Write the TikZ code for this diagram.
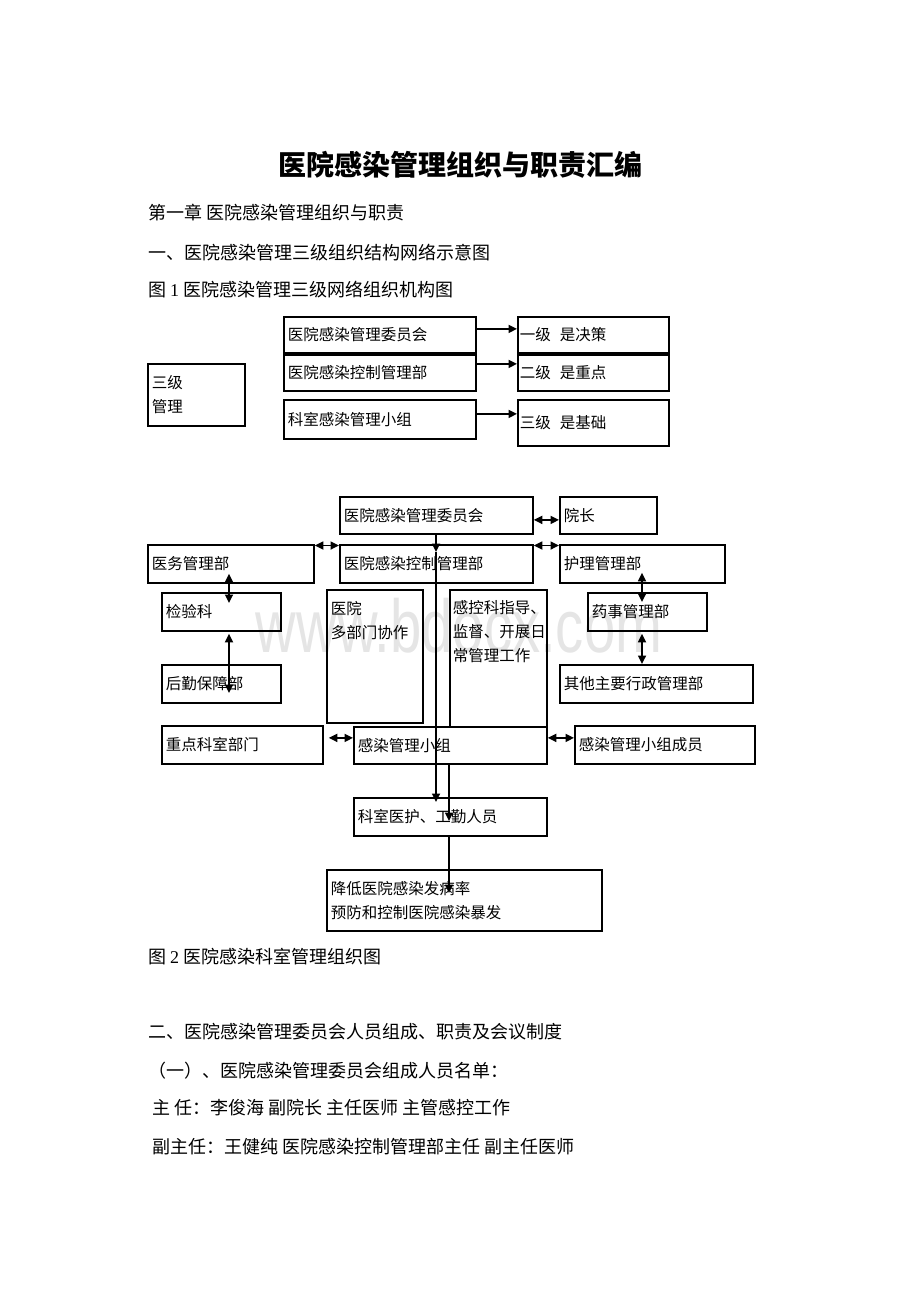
\documentclass[tikz,border=0pt]{standalone}
\usepackage{fontspec}
\setmainfont{Noto Sans CJK SC}
\newfontfamily\lat{Liberation Serif}
\newfontfamily\wmfont{Liberation Sans}
\usetikzlibrary{arrows.meta}

\newcommand{\bodyfont}{\fontsize{18}{22}\selectfont}
\newcommand{\boxfont}{\fontsize{15.5}{24}\selectfont}
\newcommand{\titlefont}{\bfseries\fontsize{28}{32}\selectfont}

\tikzset{
  box/.style={draw, line width=1.8pt, anchor=north west, inner xsep=4pt, inner ysep=0pt, align=left, font=\boxfont},
  line/.style={anchor=west, inner sep=0pt, font=\bodyfont},
  dbl/.style={{Triangle[length=8.5pt,width=8pt]}-{Triangle[length=8.5pt,width=8pt]}, line width=1.7pt},
  one/.style={-{Triangle[length=8.5pt,width=8pt]}, line width=1.7pt},
}

\begin{document}
\begin{tikzpicture}[x=1pt,y=-1pt]
\useasboundingbox (0,0) rectangle (920,1302);

% watermark
\node[text=black!10, font=\wmfont\fontsize{75}{75}\selectfont, xscale=0.75, anchor=base] (wm) at (459,652) {www.bdocx.com};

% heading and text lines
\node[font=\titlefont] (title) at (460,165) {医院感染管理组织与职责汇编};
\node[line] (h1) at (148,213) {第一章 医院感染管理组织与职责};
\node[line] (h2) at (148,253) {一、医院感染管理三级组织结构网络示意图};
\node[line] (cap1) at (148,290) {图 {\lat 1} 医院感染管理三级网络组织机构图};

% figure 1
\node[box, text width=89pt, minimum height=62pt] (sj) at (147,363) {三级\\管理};
\node[box, text width=184pt, minimum height=36pt] (s1) at (283,316) {医院感染管理委员会};
\node[box, text width=184pt, minimum height=36pt] (s2) at (283,354) {医院感染控制管理部};
\node[box, text width=184pt, minimum height=39pt] (s3) at (283,399) {科室感染管理小组};
\node[box, inner xsep=2pt, text width=147pt, minimum height=36pt] (l1) at (517,316) {一级\hspace{9pt}是决策};
\node[box, inner xsep=2pt, text width=147pt, minimum height=36pt] (l2) at (517,354) {二级\hspace{9pt}是重点};
\node[box, inner xsep=2pt, text width=147pt, minimum height=46pt] (l3) at (517,399) {三级\hspace{9pt}是基础};

\draw[one] ([yshift=6pt]s1.east) -- ([yshift=6pt]s1.east -| l1.west);
\draw[one] ([yshift=9pt]s2.east) -- ([yshift=9pt]s2.east -| l2.west);
\draw[one] ([yshift=5.5pt]s3.east) -- ([yshift=5.5pt]s3.east -| l3.west);

% figure 2
\coordinate (c1) at (229,0);
\coordinate (c2) at (642,0);
\coordinate (v1) at (436,0);
\coordinate (v2) at (449,0);

\node[box, text width=185pt, minimum height=37pt] (wyh) at (339,496) {医院感染管理委员会};
\node[box, text width=89pt, minimum height=37pt] (yz) at (559,496) {院长};
\node[box, text width=158pt, minimum height=38pt] (ywb) at (147,544) {医务管理部};
\node[box, text width=185pt, minimum height=38pt] (kgb) at (339,544) {医院感染控制管理部};
\node[box, text width=157pt, minimum height=38pt] (hlb) at (559,544) {护理管理部};
\node[box, text width=111pt, minimum height=38pt] (jyk) at (161,592) {检验科};
\node[box, text width=88pt, minimum height=133pt] (dbm) at (326,589)
  {\parbox[c][111pt][t]{88pt}{\raggedright 医院\\多部门协作}};
\node[box, inner xsep=3pt, text width=91pt, minimum height=137pt] (gkk) at (449,589)
  {\parbox[c][115pt][t]{91pt}{\raggedright 感控科指导、\\监督、开展日\\常管理工作}};
\node[box, text width=111pt, minimum height=38pt] (ysb) at (587,592) {药事管理部};
\node[box, text width=111pt, minimum height=38pt] (hq) at (161,664) {后勤保障部};
\node[box, text width=185pt, minimum height=38pt] (qt) at (559,664) {其他主要行政管理部};
\node[box, text width=153pt, minimum height=38pt] (zd) at (161,725) {重点科室部门};
\node[box, text width=185pt, minimum height=37pt] (xz) at (353,726) {感染管理小组};
\node[box, text width=172pt, minimum height=38pt] (cy) at (574,725) {感染管理小组成员};
\node[box, text width=185pt, minimum height=38pt] (ks) at (353,797) {科室医护、工勤人员};
\node[box, text width=267pt, minimum height=61pt] (jd) at (326,869) {降低医院感染发病率\\预防和控制医院感染暴发};

\draw[dbl] ([yshift=-4.5pt]wyh.east) -- ([yshift=-4.5pt]wyh.east -| yz.west);
\draw[dbl] ([yshift=-1.5pt]ywb.north east) -- ([yshift=-1.5pt]ywb.north east -| kgb.west);
\draw[dbl] ([yshift=-1.5pt]kgb.north east) -- ([yshift=-1.5pt]kgb.north east -| hlb.west);
\draw[dbl] ([yshift=10pt]ywb.south -| c1) -- ([yshift=-11pt]jyk.north -| c1);
\draw[dbl] ([yshift=-2pt]jyk.south -| c1) -- ([yshift=-29pt]hq.north -| c1);
\draw[dbl] ([yshift=11pt]hlb.south -| c2) -- ([yshift=-10pt]ysb.north -| c2);
\draw[dbl] ([yshift=-2pt]ysb.south -| c2) -- (qt.north -| c2);
\draw[dbl] ([yshift=7pt,xshift=5pt]zd.east) -- ([yshift=7pt]zd.east -| xz.west);
\draw[dbl] ([yshift=7.5pt]xz.east) -- ([yshift=7.5pt]xz.east -| cy.west);

\draw[one] (wyh.south -| v1) -- ([yshift=-8pt]kgb.north -| v1);
\draw[one] ([yshift=-8pt]kgb.north -| v1) -- ([yshift=-5pt]ks.north -| v1);
\draw[one] (xz.south -| v2) -- ([yshift=-24pt]ks.north -| v2);
\draw[one] (ks.south -| v2) -- ([yshift=-24pt]jd.north -| v2);

% text below
\node[line] (cap2) at (148,957) {图 {\lat 2} 医院感染科室管理组织图};
\node[line] (h3) at (148,1032) {二、医院感染管理委员会人员组成、职责及会议制度};
\node[line] (h4) at (148,1071) {（一）、医院感染管理委员会组成人员名单：};
\node[line] (p1) at (152,1108) {主 任：李俊海 副院长 主任医师 主管感控工作};
\node[line] (p2) at (152,1147) {副主任：王健纯 医院感染控制管理部主任 副主任医师};
\end{tikzpicture}
\end{document}
